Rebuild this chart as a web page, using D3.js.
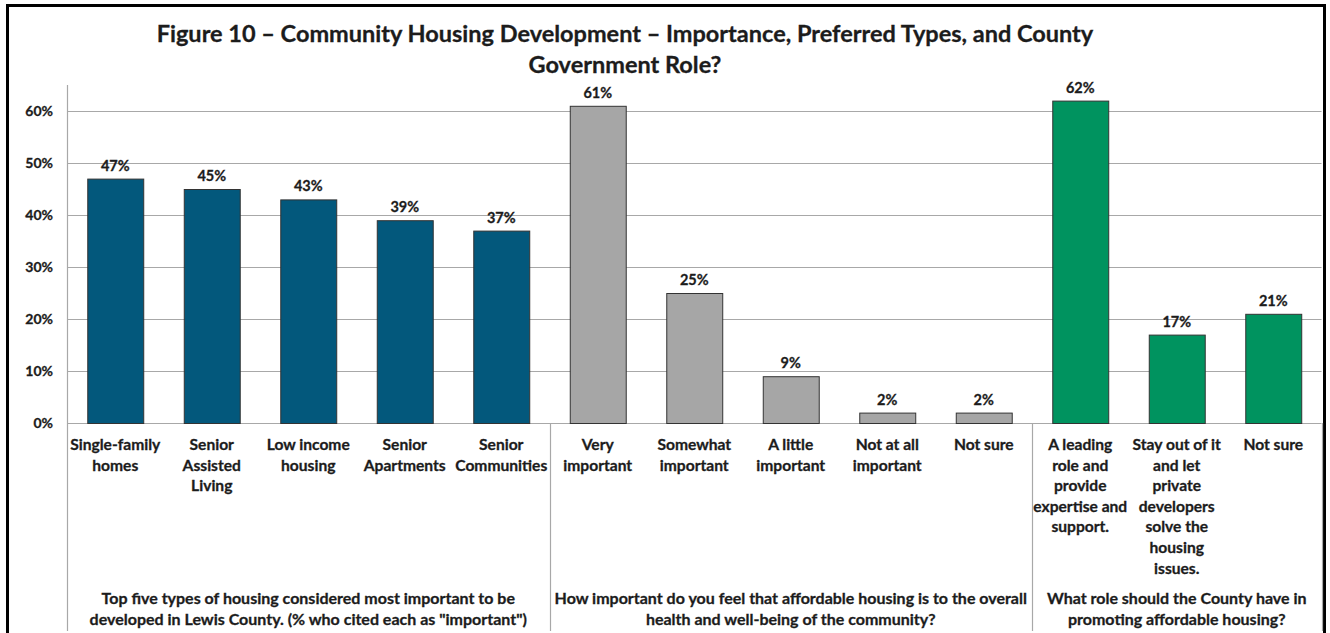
<!DOCTYPE html>
<html lang="en">
<head>
  <meta charset="UTF-8">
  <title>Figure 10 – Community Housing Development</title>
  <script src="https://d3js.org/d3.v7.min.js"></script>
  <style>
    html, body { margin: 0; padding: 0; background: #fff; }
    svg { display: block; font-family: Lato, "Open Sans", sans-serif; font-weight: bold; }
    .lbl { fill: #1c1c1c; stroke: #1c1c1c; stroke-width: 0.3px; }
  </style>
</head>
<body>
<svg id="chart" width="1330" height="633"></svg>
<script>
  // Donnees
  const titleLines = [
    "Figure 10 – Community Housing Development – Importance, Preferred Types, and County",
    "Government Role?"
  ];

  const housingTypes = [
    ["Single-family", "homes"],
    ["Senior", "Assisted", "Living"],
    ["Low income", "housing"],
    ["Senior", "Apartments"],
    ["Senior", "Communities"]
  ];
  const housingValues = [47, 45, 43, 39, 37];

  const importanceLevels = [
    ["Very", "important"],
    ["Somewhat", "important"],
    ["A little", "important"],
    ["Not at all", "important"],
    ["Not sure"]
  ];
  const importanceValues = [61, 25, 9, 2, 2];

  const countyRoles = [
    ["A leading", "role and", "provide", "expertise and", "support."],
    ["Stay out of it", "and let", "private", "developers", "solve the", "housing", "issues."],
    ["Not sure"]
  ];
  const countyValues = [62, 17, 21];

  const groupTitles = [
    ["Top five types of housing considered most important to be", "developed in Lewis County. (% who cited each as \"important\")"],
    ["How important do you feel that affordable housing is to the overall", "health and well-being of the community?"],
    ["What role should the County have in", "promoting affordable housing?"]
  ];
  const groupColors = ["#03587c", "#a6a6a6", "#00935f"];
  const yTicks = [0, 10, 20, 30, 40, 50, 60];

  // Construire la liste des barres
  const groups = [
    { labels: housingTypes, values: housingValues },
    { labels: importanceLevels, values: importanceValues },
    { labels: countyRoles, values: countyValues }
  ];
  const bars = [];
  groups.forEach((g, gi) => {
    g.labels.forEach((lab, i) => {
      bars.push({ id: bars.length, group: gi, lines: lab, value: g.values[i] });
    });
  });

  const plotLeft = 67, plotRight = 1321.5, plotTop = 85, plotBase = 423, plotBottom = 631;
  const gridColor = "#a8a8a8";

  const svg = d3.select("#chart");

  const x = d3.scaleBand()
              .domain(bars.map(d => d.id))
              .range([plotLeft, plotRight])
              .paddingInner(0.42)
              .paddingOuter(0.21);

  const y = d3.scaleLinear()
              .domain([0, 65])
              .range([plotBase, plotTop]);

  // Cadre noir
  svg.append("rect")
     .attr("x", 7.5).attr("y", 5.5)
     .attr("width", 1317).attr("height", 640)
     .attr("fill", "none")
     .attr("stroke", "#000")
     .attr("stroke-width", 3);

  // Titre
  svg.append("text")
     .attr("class", "lbl")
     .attr("text-anchor", "middle")
     .attr("font-size", 23.5)
     .selectAll("tspan")
     .data(titleLines)
     .join("tspan")
       .attr("x", 625)
       .attr("y", (d, i) => 42 + i * 31)
       .text(d => d);

  // Grille horizontale
  svg.append("g")
     .selectAll("line")
     .data(yTicks)
     .join("line")
       .attr("x1", plotLeft).attr("x2", plotRight)
       .attr("y1", d => Math.round(y(d)) + 0.5)
       .attr("y2", d => Math.round(y(d)) + 0.5)
       .attr("stroke", gridColor)
       .attr("stroke-width", 1.2);

  // Axe vertical
  const yAxis = d3.axisLeft(y)
                  .tickValues(yTicks)
                  .tickFormat(d => d + "%")
                  .tickSize(0)
                  .tickPadding(14);
  const yAxisGroup = svg.append("g")
                        .attr("transform", `translate(${plotLeft},0)`)
                        .call(yAxis);
  yAxisGroup.select(".domain").remove();
  yAxisGroup.selectAll("text")
            .attr("class", "lbl")
            .attr("font-family", "Lato, sans-serif")
            .attr("font-weight", "bold")
            .attr("font-size", 14);

  // Lignes de l'axe des categories
  const step = x.step();
  const separators = [0, 5, 10, 13].map(k => plotLeft + k * step);
  svg.append("g")
     .selectAll("line")
     .data(separators)
     .join("line")
       .attr("x1", d => Math.round(d) + 0.5)
       .attr("x2", d => Math.round(d) + 0.5)
       .attr("y1", (d, i) => i === 0 ? plotTop : plotBase)
       .attr("y2", plotBottom)
       .attr("stroke", gridColor)
       .attr("stroke-width", 1.2);

  // Barres
  svg.append("g")
     .selectAll("rect")
     .data(bars)
     .join("rect")
       .attr("x", d => x(d.id) + 0.5)
       .attr("y", d => y(d.value) + 0.5)
       .attr("width", x.bandwidth())
       .attr("height", d => y(0) - y(d.value))
       .attr("fill", d => groupColors[d.group])
       .attr("stroke", "#333")
       .attr("stroke-width", 1);

  // Etiquettes de valeurs
  svg.append("g")
     .selectAll("text")
     .data(bars)
     .join("text")
       .attr("class", "lbl")
       .attr("x", d => x(d.id) + x.bandwidth() / 2)
       .attr("y", d => y(d.value) - 8)
       .attr("text-anchor", "middle")
       .attr("font-size", 14.5)
       .text(d => d.value + "%");

  // Etiquettes des categories
  svg.append("g")
     .selectAll("text")
     .data(bars)
     .join("text")
       .attr("class", "lbl")
       .attr("text-anchor", "middle")
       .attr("font-size", 15.6)
       .each(function (d) {
         d3.select(this).selectAll("tspan")
           .data(d.lines)
           .join("tspan")
             .attr("x", x(d.id) + x.bandwidth() / 2)
             .attr("y", (t, i) => 450 + i * 20.6)
             .text(t => t);
       });

  // Titres des groupes
  svg.append("g")
     .selectAll("text")
     .data(groupTitles)
     .join("text")
       .attr("class", "lbl")
       .attr("text-anchor", "middle")
       .attr("font-size", 16)
       .each(function (d, gi) {
         const cx = (separators[gi] + separators[gi + 1]) / 2;
         d3.select(this).selectAll("tspan")
           .data(d)
           .join("tspan")
             .attr("x", cx)
             .attr("y", (t, i) => 604 + i * 21)
             .text(t => t);
       });
</script>
</body>
</html>
